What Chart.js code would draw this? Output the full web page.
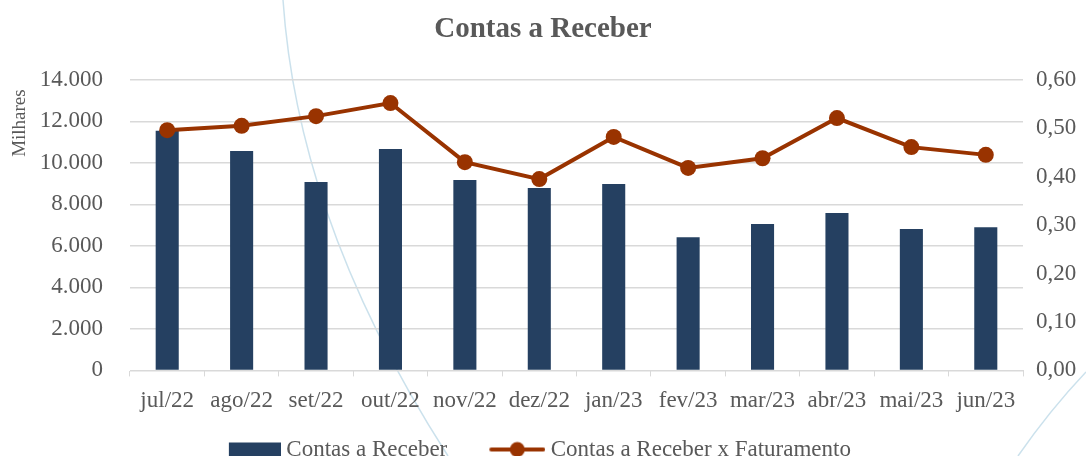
<!DOCTYPE html>
<html>
<head>
<meta charset="utf-8">
<script src="https://cdn.jsdelivr.net/npm/chart.js@4.4.0/dist/chart.umd.min.js"></script>
<style>
  html, body { margin: 0; padding: 0; background: #fff; }
  #wrap { width: 1086px; height: 456px; position: relative; }
</style>
</head>
<body>
<div id="wrap"><canvas id="contasChart" width="1086" height="456"></canvas></div>
<script>
const months = ['jul/22', 'ago/22', 'set/22', 'out/22', 'nov/22', 'dez/22', 'jan/23', 'fev/23', 'mar/23', 'abr/23', 'mai/23', 'jun/23'];
const contasReceber = [11550, 10570, 9080, 10670, 9170, 8790, 8980, 6420, 7050, 7580, 6810, 6900];
const contasXFaturamento = [0.496, 0.505, 0.525, 0.552, 0.430, 0.395, 0.482, 0.418, 0.438, 0.521, 0.461, 0.445];

const NAVY = '#254061';
const RUST = '#993300';
const TEXT = '#595959';
const GRID = '#d9d9d9';
const FONT = '"Liberation Serif", "Times New Roman", serif';
const LEGEND_FONT = 23;
const SWATCH_BOX = 80; // legend pointStyleWidth

// legend swatch: drawn flush right so it ends just before the label text
const makeSwatch = (contentWidth, draw) => {
    const c = document.createElement('canvas');
    c.width = SWATCH_BOX + LEGEND_FONT / 2 + 1;
    c.height = 18;
    const ctx = c.getContext('2d');
    ctx.translate(c.width - contentWidth, 0);
    draw(ctx);
    return c;
};
const barSwatch = makeSwatch(52, (c) => {
    c.fillStyle = NAVY;
    c.fillRect(0, 2, 52, 14);
});
const lineSwatch = makeSwatch(56, (c) => {
    c.strokeStyle = RUST;
    c.lineWidth = 4;
    c.lineCap = 'round';
    c.beginPath();
    c.moveTo(2, 9);
    c.lineTo(54, 9);
    c.stroke();
    c.fillStyle = RUST;
    c.beginPath();
    c.arc(28, 9, 7.5, 0, Math.PI * 2);
    c.fill();
});
const swatches = [lineSwatch, barSwatch];
// trailing room after the last legend label, so the row sits a bit left like the original
const legendTail = '\u00a0'.repeat(7);

// faint decorative curves behind the chart
const backdrop = {
    id: 'backdrop',
    beforeDraw(chart) {
        const ctx = chart.ctx;
        ctx.save();
        ctx.strokeStyle = 'rgba(160,200,220,0.55)';
        ctx.lineWidth = 1.5;
        ctx.beginPath();
        ctx.moveTo(283, 0);
        ctx.bezierCurveTo(292, 130, 335, 280, 448, 456);
        ctx.stroke();
        ctx.beginPath();
        ctx.moveTo(1086, 372);
        ctx.quadraticCurveTo(1050, 410, 1018, 456);
        ctx.stroke();
        ctx.restore();
    },
};

new Chart(document.getElementById('contasChart'), {
    type: 'bar',
    data: {
        labels: months,
        datasets: [
            {
                type: 'line',
                label: 'Contas a Receber x Faturamento',
                data: contasXFaturamento,
                yAxisID: 'y1',
                borderColor: RUST,
                backgroundColor: RUST,
                borderWidth: 4,
                pointRadius: 8,
                pointHoverRadius: 8,
                pointBackgroundColor: RUST,
                pointBorderWidth: 0,
                tension: 0,
                order: 0,
            },
            {
                label: 'Contas a Receber',
                data: contasReceber,
                yAxisID: 'y',
                backgroundColor: NAVY,
                barPercentage: 0.31,
                categoryPercentage: 1,
                order: 1,
            },
        ],
    },
    options: {
        responsive: false,
        animation: false,
        layout: { padding: { top: 0, bottom: -15, left: 0, right: 0 } },
        plugins: {
            title: {
                display: true,
                text: 'Contas a Receber',
                color: TEXT,
                font: { family: FONT, size: 29, weight: 'bold' },
                padding: { top: 12, bottom: 33 },
            },
            legend: {
                position: 'bottom',
                reverse: true,
                labels: {
                    usePointStyle: true,
                    pointStyleWidth: SWATCH_BOX,
                    color: TEXT,
                    font: { family: FONT, size: LEGEND_FONT },
                    padding: 12,
                    generateLabels(chart) {
                        return chart.data.datasets.map((ds, i) => ({
                            text: i === 0 ? ds.label + legendTail : ds.label,
                            pointStyle: swatches[i],
                            fontColor: TEXT,
                            datasetIndex: i,
                            hidden: false,
                            lineWidth: 0,
                        }));
                    },
                },
            },
            tooltip: { enabled: false },
        },
        scales: {
            x: {
                offset: true,
                grid: { drawOnChartArea: false, drawTicks: true, tickLength: 6, color: GRID, offset: true },
                border: { color: GRID },
                ticks: {
                    color: TEXT,
                    font: { family: FONT, size: 23 },
                    padding: 11,
                    autoSkip: false,
                    maxRotation: 0,
                    minRotation: 0,
                },
            },
            y: {
                position: 'left',
                min: 0,
                max: 14000,
                afterFit(scale) { scale.width = 130; },
                grid: { color: GRID, lineWidth: 1.5, drawTicks: false },
                border: { display: false },
                title: {
                    display: true,
                    text: 'Milhares\u00a0\u00a0',
                    align: 'end',
                    color: TEXT,
                    font: { family: FONT, size: 19 },
                    padding: { top: 9, bottom: 0 },
                },
                ticks: {
                    stepSize: 2000,
                    color: TEXT,
                    font: { family: FONT, size: 23 },
                    padding: 27,
                    callback: (v) => v === 0 ? '0' : v.toLocaleString('pt-BR'),
                },
            },
            y1: {
                position: 'right',
                min: 0,
                max: 0.6,
                afterFit(scale) { scale.width = 63; },
                grid: { drawOnChartArea: false, drawTicks: false },
                border: { display: false },
                ticks: {
                    stepSize: 0.1,
                    color: TEXT,
                    font: { family: FONT, size: 23 },
                    padding: 13,
                    callback: (v) => v.toFixed(2).replace('.', ','),
                },
            },
        },
    },
    plugins: [backdrop],
});
</script>
</body>
</html>
